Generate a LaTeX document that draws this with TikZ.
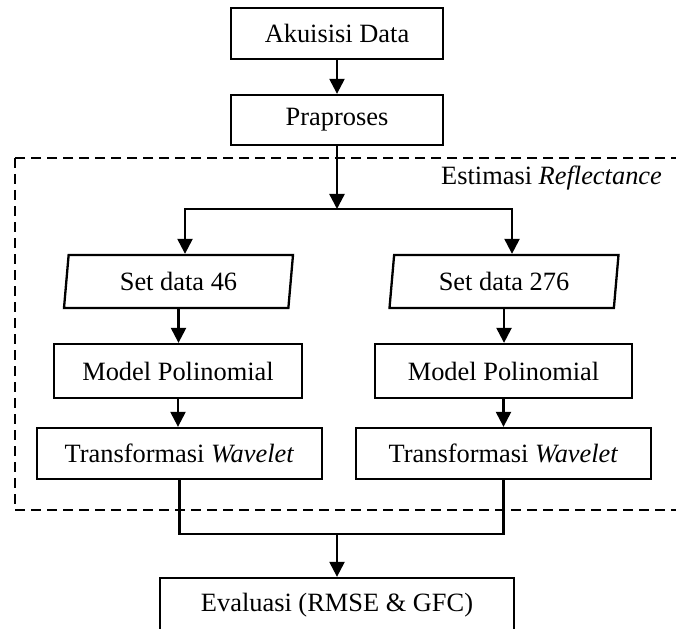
\documentclass[tikz,border=0pt]{standalone}
\usepackage{fontspec}
\setmainfont{Liberation Serif}
\usetikzlibrary{shapes.geometric,arrows.meta}

\begin{document}
\begin{tikzpicture}[x=1pt, y=-1pt, line width=2.3pt,
  font=\fontsize{26.4}{30}\selectfont,
  box/.style={draw, rectangle, minimum height=51pt, inner sep=0pt},
  dataset/.style={draw, trapezium, trapezium left angle=76, trapezium right angle=104,
    trapezium stretches body, minimum width=229pt, minimum height=53pt, inner sep=0pt},
  arr/.style={-{Triangle[length=15pt,width=15pt]}}]
  \clip (0,0) rectangle (676,628);

  % Estimasi Reflectance region
  \draw[dash pattern=on 10pt off 6pt, line width=2.2pt] (15,158) rectangle (700,510);
  \node[anchor=base east, inner sep=0pt] (estlabel) at (663,185) {Estimasi \textit{Reflectance}};

  \node[box, minimum width=212pt] (akuisisi) at (337,33.5) {Akuisisi Data};
  \node[box, minimum width=212pt, minimum height=50pt] (praproses) at (337,120) {Praproses};
  \coordinate (split) at (337,209);

  \node[dataset] (set46) at (178.5,281.5) {Set data 46};
  \node[dataset] (set276) at (504,281.5) {Set data 276};

  \node[box, minimum width=248pt, minimum height=54pt] (model46) at (178,371) {Model Polinomial};
  \node[box, minimum width=257pt, minimum height=54pt] (model276) at (503.5,371) {Model Polinomial};

  \node[box, minimum width=285pt] (trans46) at (179.5,453.5) {Transformasi \textit{Wavelet}};
  \node[box, minimum width=295pt] (trans276) at (503.5,453.5) {Transformasi \textit{Wavelet}};

  \coordinate (join) at (337,534);
  \node[box, minimum width=354pt, minimum height=54pt] (evaluasi) at (337,605) {Evaluasi (RMSE \& GFC)};

  % connectors
  \draw[arr] (akuisisi) -- (praproses);
  \draw[arr] (praproses) -- (split);
  \draw[arr] (split) -| ([xshift=6.5pt]set46.north);
  \draw[arr] (split) -| ([xshift=8pt]set276.north);
  \draw[arr] (set46.south) -- (set46.south |- model46.north);
  \draw[arr] (set276.south) -- (set276.south |- model276.north);
  \draw[arr] (model46.south) -- (model46.south |- trans46.north);
  \draw[arr] (model276) -- (trans276);
  \draw (trans46.south) |- (join) -| (trans276.south);
  \draw[arr] (join) -- (evaluasi);
\end{tikzpicture}
\end{document}
